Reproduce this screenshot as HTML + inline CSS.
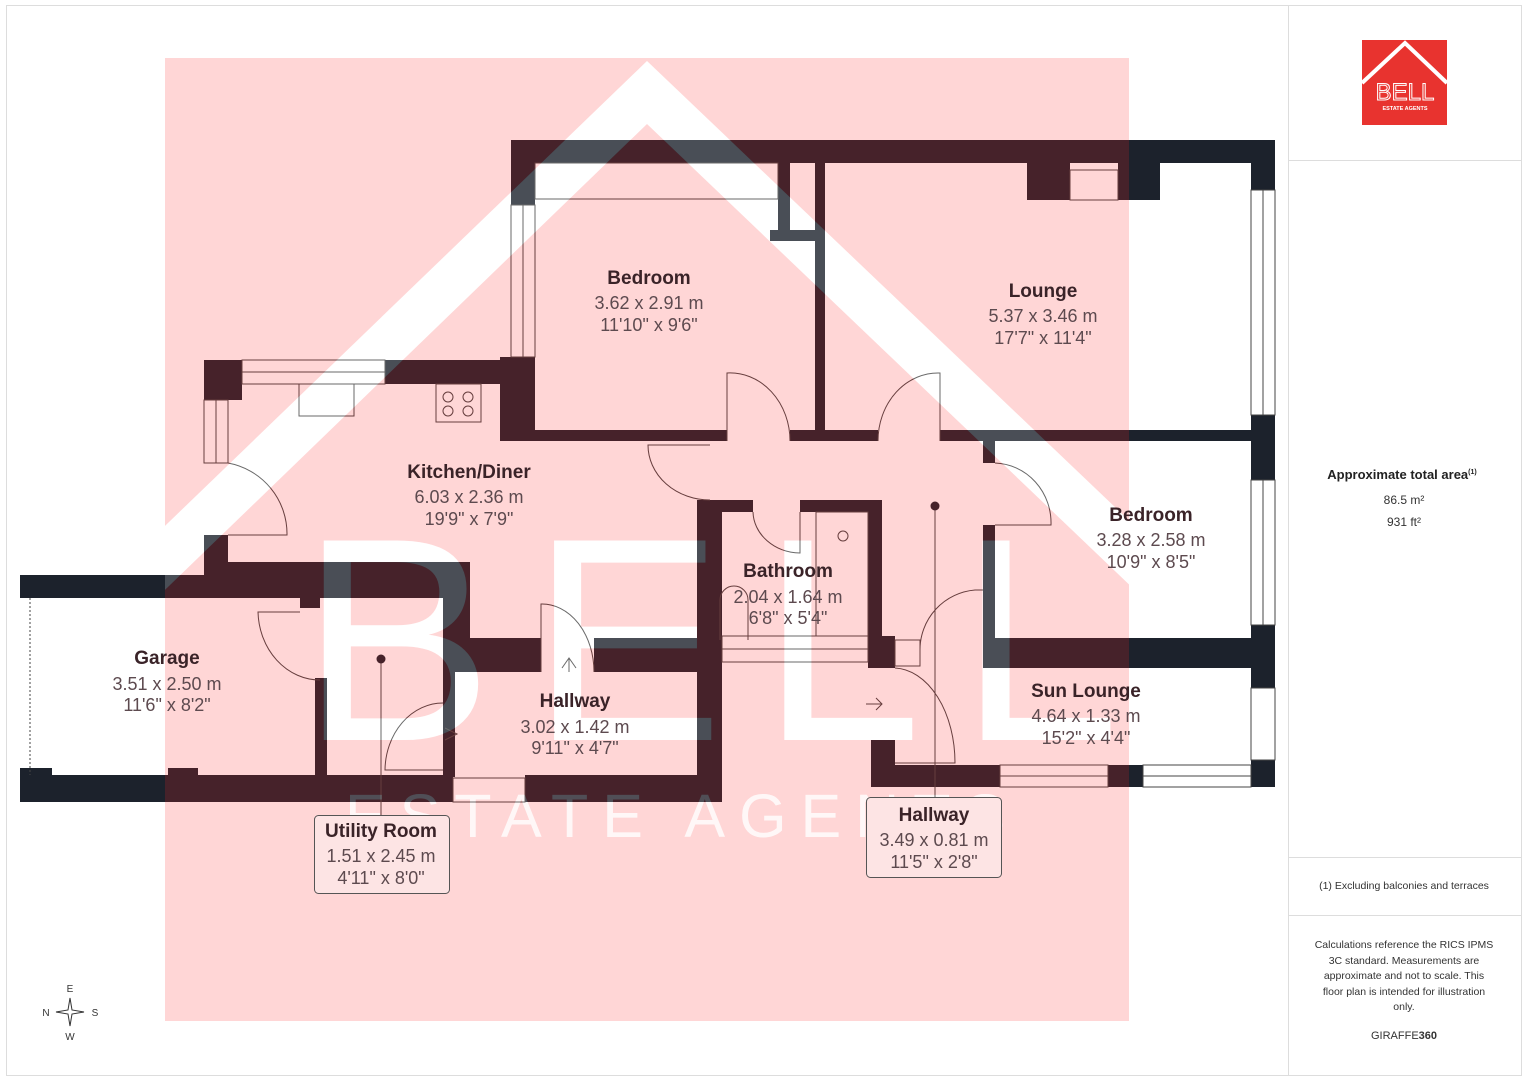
<!DOCTYPE html>
<html><head><meta charset="utf-8"><style>
html,body{margin:0;padding:0;background:#fff;}
svg{display:block;}
text{font-family:"Liberation Sans",sans-serif;}
</style></head><body>
<svg width="1527" height="1080" viewBox="0 0 1527 1080" xmlns="http://www.w3.org/2000/svg">
<defs>
<clipPath id="pk"><rect x="165" y="58" width="964" height="963"/></clipPath>
<mask id="m">
<rect x="0" y="0" width="1527" height="1080" fill="#fff"/>
<polygon points="140,550 647,61 1160,550 1160,614 647,124 140,614" fill="#000"/>
<text x="300" y="740" font-size="290" fill="#000" textLength="820" lengthAdjust="spacing">BELL</text>
<text x="345" y="837" font-size="61" fill="#333" textLength="660" lengthAdjust="spacing">ESTATE AGENTS</text>
</mask>
</defs>
<rect width="1527" height="1080" fill="#fff"/>
<rect x="6.5" y="5.5" width="1515" height="1070" fill="none" stroke="#ddd"/>
<line x1="1288.5" y1="5" x2="1288.5" y2="1075" stroke="#ddd"/>
<line x1="1288" y1="160.5" x2="1521" y2="160.5" stroke="#ddd"/>
<line x1="1288" y1="857.5" x2="1521" y2="857.5" stroke="#ddd"/>
<line x1="1288" y1="915.5" x2="1521" y2="915.5" stroke="#ddd"/>

<g fill="#1c222c">
<rect x="511" y="140" width="764" height="23"/>
<rect x="511" y="140" width="24" height="65"/>
<rect x="500" y="357" width="35" height="84"/>
<rect x="778" y="163" width="12" height="67"/>
<rect x="770" y="230" width="52" height="11"/>
<rect x="815" y="163" width="10" height="277"/>
<rect x="1027" y="163" width="43" height="37"/>
<rect x="1118" y="163" width="42" height="37"/>
<rect x="1251" y="140" width="24" height="50"/>
<rect x="1251" y="415" width="24" height="65"/>
<rect x="1251" y="625" width="24" height="63"/>
<rect x="1251" y="760" width="24" height="27"/>
<rect x="500" y="430" width="227" height="11"/>
<rect x="790" y="430" width="88" height="11"/>
<rect x="940" y="430" width="311" height="11"/>
<rect x="204" y="360" width="38" height="24"/>
<rect x="385" y="360" width="150" height="24"/>
<rect x="204" y="360" width="38" height="40"/>
<rect x="204" y="535" width="24" height="40"/>
<rect x="20" y="575" width="450" height="23"/>
<rect x="204" y="562" width="266" height="36"/>
<rect x="443" y="598" width="27" height="74"/>
<rect x="470" y="638" width="71" height="34"/>
<rect x="594" y="638" width="128" height="34"/>
<rect x="443" y="672" width="12" height="105"/>
<rect x="697" y="500" width="25" height="302"/>
<rect x="20" y="775" width="433" height="27"/>
<rect x="525" y="775" width="197" height="27"/>
<rect x="20" y="768" width="32" height="10"/>
<rect x="168" y="768" width="30" height="10"/>
<rect x="315" y="678" width="12" height="102"/>
<rect x="300" y="598" width="20" height="10"/>
<rect x="697" y="500" width="56" height="12"/>
<rect x="800" y="500" width="82" height="12"/>
<rect x="868" y="500" width="14" height="140"/>
<rect x="868" y="636" width="27" height="32"/>
<rect x="983" y="440" width="12" height="23"/>
<rect x="983" y="525" width="12" height="143"/>
<rect x="983" y="638" width="292" height="30"/>
<rect x="871" y="740" width="24" height="47"/>
<rect x="871" y="765" width="129" height="22"/>
<rect x="1108" y="765" width="35" height="22"/>
</g>
<g fill="#fff" stroke="#444" stroke-width="1">
<rect x="511" y="205" width="24" height="152"/>
<rect x="242" y="360" width="143" height="24"/>
<rect x="204" y="400" width="24" height="63"/>
<rect x="1251" y="190" width="24" height="225"/>
<rect x="1251" y="480" width="24" height="145"/>
<rect x="1251" y="688" width="24" height="72"/>
<rect x="453" y="778" width="72" height="24"/>
<rect x="1000" y="765" width="108" height="22"/>
<rect x="1143" y="765" width="108" height="22"/>
<rect x="1070" y="170" width="48" height="30"/>
<rect x="535" y="163" width="243" height="36"/>
</g>
<g fill="none" stroke="#444" stroke-width="1">
<line x1="1263" y1="190" x2="1263" y2="415"/><line x1="1263" y1="480" x2="1263" y2="625"/>
<line x1="523" y1="205" x2="523" y2="357"/><line x1="242" y1="372" x2="385" y2="372"/>
<line x1="216" y1="400" x2="216" y2="463"/><line x1="1000" y1="776" x2="1108" y2="776"/><line x1="1143" y1="776" x2="1251" y2="776"/>
<line x1="30" y1="598" x2="30" y2="775" stroke-dasharray="2,2"/>
<rect x="299" y="384" width="55" height="32"/><rect x="436" y="384" width="45" height="38"/>
<circle cx="448" cy="397" r="5"/><circle cx="468" cy="397" r="5"/><circle cx="448" cy="411" r="5"/><circle cx="468" cy="411" r="5"/>
<rect x="816" y="512" width="52" height="124"/><circle cx="843" cy="536" r="5"/>
<path d="M720 640 V600 a14 14 0 0 1 28 0 V640"/><rect x="722" y="636" width="146" height="26"/><line x1="722" y1="649" x2="868" y2="649"/>
<rect x="895" y="640" width="25" height="26"/>
<path d="M228 463 A72 72 0 0 1 287 535 H228"/>
<path d="M727 441 V373 A60 68 0 0 1 790 441"/>
<path d="M940 441 V373 A60 68 0 0 0 878 441"/>
<path d="M710 445 H648 A62 55 0 0 0 710 500"/>
<path d="M753 512 A48 42 0 0 0 800 553 V512"/>
<path d="M995 463 A58 60 0 0 1 1051 525 H995"/>
<path d="M983 590 H975 A60 60 0 0 0 920 650"/>
<path d="M895 668 A62 95 0 0 1 955 763 H895"/>
<path d="M300 612 H258 A62 70 0 0 0 320 680"/>
<path d="M443 703 A58 68 0 0 0 385 770 H443"/>
<path d="M541 672 V604 A52 68 0 0 1 594 672"/>
<path d="M562 668 L569 658 L576 668 M569 658 V672" />
<path d="M445 728 L457 734 L445 740"/>
<path d="M866 704 h16 M876 698 L882 704 L876 710"/>
<line x1="381" y1="659" x2="381" y2="815"/><line x1="935" y1="506" x2="935" y2="797"/>
</g>
<circle cx="381" cy="659" r="4.5" fill="#1c222c"/><circle cx="935" cy="506" r="4.5" fill="#1c222c"/>

<rect x="165" y="58" width="964" height="963" fill="rgb(255,39,39)" fill-opacity="0.19" mask="url(#m)"/>
<g clip-path="url(#pk)" opacity="0.2">
<polygon points="140,550 647,61 1160,550 1160,614 647,124 140,614" fill="#fff"/>
<text x="300" y="740" font-size="290" fill="#fff" textLength="820" lengthAdjust="spacing">BELL</text>
<text x="345" y="837" font-size="61" fill="#fff" textLength="660" lengthAdjust="spacing">ESTATE AGENTS</text>
</g>

<g text-anchor="middle" fill="#3a2328">
<rect x="314.5" y="815.5" width="135" height="78" rx="4" fill="#fde4e4" stroke="#555"/>
<rect x="866.5" y="797.5" width="135" height="80" rx="4" fill="#fde4e4" stroke="#555"/>
<g font-size="19" font-weight="bold">
<text x="649" y="284">Bedroom</text><text x="1043" y="297">Lounge</text>
<text x="469" y="478">Kitchen/Diner</text><text x="1151" y="521">Bedroom</text>
<text x="788" y="577">Bathroom</text><text x="167" y="664">Garage</text>
<text x="575" y="707">Hallway</text><text x="1086" y="697">Sun Lounge</text>
<text x="381" y="837">Utility Room</text><text x="934" y="821">Hallway</text>
</g>
<g font-size="18" fill="#5d4a4f">
<text x="649" y="309">3.62 x 2.91 m</text><text x="649" y="331">11'10" x 9'6"</text>
<text x="1043" y="322">5.37 x 3.46 m</text><text x="1043" y="344">17'7" x 11'4"</text>
<text x="469" y="503">6.03 x 2.36 m</text><text x="469" y="525">19'9" x 7'9"</text>
<text x="1151" y="546">3.28 x 2.58 m</text><text x="1151" y="568">10'9" x 8'5"</text>
<text x="788" y="603">2.04 x 1.64 m</text><text x="788" y="624">6'8" x 5'4"</text>
<text x="167" y="690">3.51 x 2.50 m</text><text x="167" y="711">11'6" x 8'2"</text>
<text x="575" y="733">3.02 x 1.42 m</text><text x="575" y="754">9'11" x 4'7"</text>
<text x="1086" y="722">4.64 x 1.33 m</text><text x="1086" y="744">15'2" x 4'4"</text>
<text x="381" y="862">1.51 x 2.45 m</text><text x="381" y="884">4'11" x 8'0"</text>
<text x="934" y="846">3.49 x 0.81 m</text><text x="934" y="868">11'5" x 2'8"</text>
</g>
</g>

<g fill="#333" font-size="10" text-anchor="middle">
<text x="70" y="992">E</text><text x="70" y="1040">W</text><text x="46" y="1016">N</text><text x="95" y="1016">S</text>
<path d="M70 998 L72 1010 L84 1012 L72 1014 L70 1026 L68 1014 L56 1012 L68 1010Z" fill="none" stroke="#333"/>
</g>

<rect x="1362" y="40" width="85" height="85" fill="#e8332f"/>
<polyline points="1362,83 1405,43 1447,83" fill="none" stroke="#fff" stroke-width="4"/>
<text x="1405" y="100" font-size="24" fill="none" stroke="#fff" stroke-width="1" text-anchor="middle">BELL</text>
<text x="1405" y="110" font-size="5.5" fill="#fff" text-anchor="middle" font-weight="bold">ESTATE AGENTS</text>

<g text-anchor="middle" fill="#333">
<text x="1402" y="479" font-size="13" font-weight="bold" fill="#222">Approximate total area<tspan font-size="7" dy="-5">(1)</tspan></text>
<text x="1404" y="504" font-size="12">86.5 m²</text>
<text x="1404" y="526" font-size="12">931 ft²</text>
<text x="1404" y="889" font-size="10.5">(1) Excluding balconies and terraces</text>
<g font-size="10.5">
<text x="1404" y="948">Calculations reference the RICS IPMS</text>
<text x="1404" y="964">3C standard. Measurements are</text>
<text x="1404" y="979">approximate and not to scale. This</text>
<text x="1404" y="995">floor plan is intended for illustration</text>
<text x="1404" y="1010">only.</text>
</g>
<text x="1404" y="1039" font-size="11">GIRAFFE<tspan font-weight="bold">360</tspan></text>
</g>
</svg>
</body></html>
